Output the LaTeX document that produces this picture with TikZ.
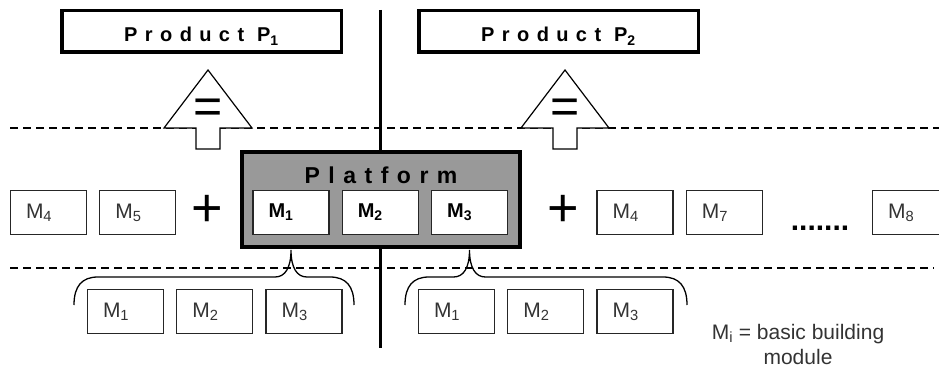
\documentclass[tikz,border=0pt]{standalone}
\usepackage{fontspec}
\setmainfont{Liberation Sans}
\newfontfamily\spaced[LetterSpace=37]{Liberation Sans}
\usetikzlibrary{positioning}
\definecolor{platgray}{HTML}{999999}
\definecolor{modtxt}{HTML}{333333}
\tikzset{
  mod/.style={rectangle, draw=black!85, line width=1.3pt, fill=white, minimum width=76pt, minimum height=44pt, inner sep=0pt, text width=45pt, align=left, text=modtxt, font=\fontsize{21}{23}\selectfont},
  basemod/.style={mod, text=black, font=\fontsize{20}{22}\selectfont\bfseries},
  prodbox/.style={rectangle, draw, line width=3.5pt, fill=white, minimum width=279.5pt, minimum height=41.5pt, inner sep=0pt, text height=21pt, text depth=0pt, font={\spaced\bfseries\fontsize{20}{22}\selectfont}},
  platbox/.style={rectangle, draw, line width=4pt, fill=platgray, minimum width=278pt, minimum height=95pt, inner sep=0pt},
  sep/.style={dash pattern=on 8pt off 5pt, line width=1.3pt},
  divider/.style={line width=3pt},
  blockarrow/.style={draw, fill=white, line width=1.2pt, line join=miter},
  brace/.style={line width=1.3pt},
  sign/.style={inner sep=0pt, font=\fontsize{54}{54}\selectfont},
}
\newcommand{\eqarrow}[2]{%
  \draw[blockarrow] (#2,70) -- (#2+44,128) -- (#2+12,128) -- (#2+12,149) -- (#2-12,149) -- (#2-12,128) -- (#2-44,128) -- cycle;
  \node[sign, font=\fontsize{50}{50}\selectfont] (#1) at (#2,111) {=};}
\newcommand{\modbrace}[3]{%
  \draw[brace] (#2,305) .. controls (#2,286) and (#2+8,277) .. (#2+24,277) -- (#1-16,277)
    .. controls (#1-6,277) and (#1,268) .. (#1,250) .. controls (#1,268) and (#1+6,277) .. (#1+16,277)
    -- (#3-24,277) .. controls (#3-8,277) and (#3,286) .. (#3,305);}

\begin{document}
\begin{tikzpicture}[x=1pt, y=-1pt]
  \useasboundingbox (0,0) rectangle (939,369);
  \coordinate (d1l) at (10,128); \coordinate (d1r) at (939,128);
  \coordinate (d2l) at (10,268); \coordinate (d2r) at (934,268);
  \coordinate (vtop) at (380,10); \coordinate (vbot) at (380,348);
  \draw[sep] (d1l) -- (d1r);
  \draw[sep] (d2l) -- (d2r);
  \draw[divider] (vtop) -- (vbot);

  \node[prodbox] (p1) at (201.5,31.5) {Product P\textsubscript{1}};
  \node[prodbox] (p2) at (558.5,31.5) {Product P\textsubscript{2}};
  \eqarrow{eq1}{208}
  \eqarrow{eq2}{565}

  \node[platbox] (plat) at (381,199.5) {};
  \node[font={\spaced\bfseries\fontsize{23}{25}\selectfont}] (plattitle) at (381,175) {Platform};
  \node[basemod] (pm1) at (291,212.5) {M\textsubscript{1}};
  \node[basemod, right=12pt of pm1] (pm2) {M\textsubscript{2}};
  \node[basemod, right=12pt of pm2] (pm3) {M\textsubscript{3}};

  \node[mod] (lm4) at (48.5,212.5) {M\textsubscript{4}};
  \node[mod, right=12pt of lm4] (lm5) {M\textsubscript{5}};
  \node[sign] (plusl) at (207,211) {+};
  \node[sign] (plusr) at (563,211) {+};
  \node[mod] (rm4) at (635,212.5) {M\textsubscript{4}};
  \node[mod, right=12pt of rm4] (rm7) {M\textsubscript{7}};
  \node[font=\fontsize{30}{30}\selectfont\bfseries, inner sep=0pt] (dots) at (820,228) {.......};
  \node[mod] (rm8) at (910.5,212.5) {M\textsubscript{8}};

  \node[mod] (a1) at (125.5,311.5) {M\textsubscript{1}};
  \node[mod, right=12pt of a1] (a2) {M\textsubscript{2}};
  \node[mod, right=12pt of a2] (a3) {M\textsubscript{3}};
  \node[mod] (b1) at (456.5,311.5) {M\textsubscript{1}};
  \node[mod, right=12pt of b1] (b2) {M\textsubscript{2}};
  \node[mod, right=12pt of b2] (b3) {M\textsubscript{3}};
  \modbrace{291}{74}{354}
  \modbrace{469.5}{405}{687}

  \node[align=center, text=modtxt, font=\fontsize{21}{25}\selectfont] (legend) at (798,344) {M\textsubscript{i} = basic building\\module};
\end{tikzpicture}
\end{document}
